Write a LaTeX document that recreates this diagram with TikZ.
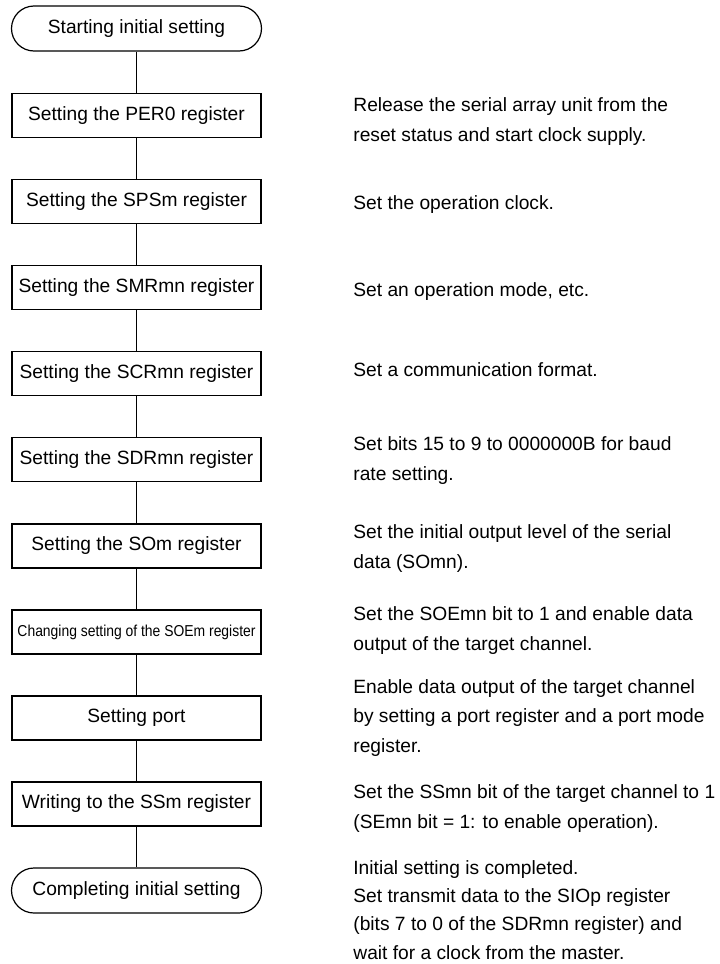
\documentclass[tikz,border=0pt]{standalone}
\usepackage{fontspec}
\setmainfont{Liberation Sans}
\usepackage{graphicx}

\begin{document}
\begin{tikzpicture}[
        x=0.5pt, y=-0.5pt,
        every node/.style={font=\fontsize{9.6pt}{14.75pt}\selectfont},
        box/.style={draw, line width=0.6pt, minimum width=124.5pt, minimum height=22pt, inner sep=0pt, align=center},
        term/.style={box, rounded corners=11.25pt, minimum width=125pt, minimum height=22.5pt},
        note/.style={anchor=base west, inner sep=0pt, align=left}
    ]
        \useasboundingbox (0,0) rectangle (719,964);

        \node[term] (start) at (136.5,28.5) {Starting initial setting};
        \node[box] (per)  at (136.5,115.5) {Setting the PER0 register};
        \node[box] (sps)  at (136.5,201.5) {Setting the SPSm register};
        \node[box] (smr)  at (136.5,287.5) {Setting the SMRmn register};
        \node[box] (scr)  at (136.5,373.5) {Setting the SCRmn register};
        \node[box] (sdr)  at (136.5,459.5) {Setting the SDRmn register};
        \node[box] (som)  at (136.5,546) {Setting the SOm register};
        \node[box] (soe)  at (136.5,632) {\scalebox{0.88}[1]{\fontsize{7.9pt}{9pt}\selectfont Changing setting of the SOEm register}};
        \node[box] (port) at (136.5,718) {Setting port};
        \node[box] (ssm)  at (136.5,804) {Writing to the SSm register};
        \node[term] (done) at (136.5,890.5) {Completing initial setting};

        % y of each note = baseline of its last line
        \node[note] (nper)  at (353,141) {Release the serial array unit from the\\reset status and start clock supply.};
        \node[note] (nsps)  at (353,209) {Set the operation clock.};
        \node[note] (nsmr)  at (353,296) {Set an operation mode, etc.};
        \node[note] (nscr)  at (353,376) {Set a communication format.};
        \node[note] (nsdr)  at (353,480) {Set bits 15 to 9 to 0000000B for baud\\rate setting.};
        \node[note] (nsom)  at (353,568) {Set the initial output level of the serial\\data (SOmn).};
        \node[note] (nsoe)  at (353,650) {Set the SOEmn bit to 1 and enable data\\output of the target channel.};
        \node[note] (nport) at (353,752) {Enable data output of the target channel\\by setting a port register and a port mode\\register.};
        \node[note] (nssm)  at (353,828) {Set the SSmn bit of the target channel to 1\\(SEmn bit = 1: to enable operation).};
        \node[note, font=\fontsize{9.6pt}{14.1pt}\selectfont] (ndone) at (353,959) {Initial setting is completed.\\Set transmit data to the SIOp register\\(bits 7 to 0 of the SDRmn register) and\\wait for a clock from the master.};

        \draw[line width=0.6pt] (start) -- (per);
        \draw[line width=0.6pt] (per) -- (sps);
        \draw[line width=0.6pt] (sps) -- (smr);
        \draw[line width=0.6pt] (smr) -- (scr);
        \draw[line width=0.6pt] (scr) -- (sdr);
        \draw[line width=0.6pt] (sdr) -- (som);
        \draw[line width=0.6pt] (som) -- (soe);
        \draw[line width=0.6pt] (soe) -- (port);
        \draw[line width=0.6pt] (port) -- (ssm);
        \draw[line width=0.6pt] (ssm) -- (done);
    \end{tikzpicture}
\end{document}
